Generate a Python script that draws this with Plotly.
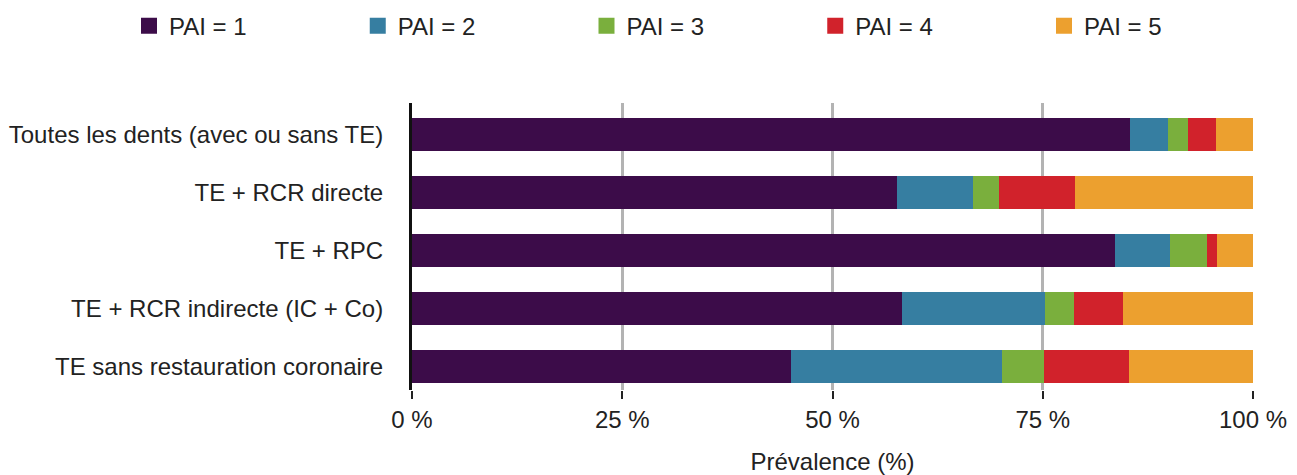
import plotly.graph_objects as go

categories = [
    "Toutes les dents (avec ou sans TE)",
    "TE + RCR directe",
    "TE + RPC",
    "TE + RCR indirecte (IC + Co)",
    "TE sans restauration coronaire",
]
series_names = ["PAI = 1", "PAI = 2", "PAI = 3", "PAI = 4", "PAI = 5"]
pai1 = [85.4, 57.7, 83.6, 58.3, 45.1]
pai2 = [4.5, 9.0, 6.5, 17.0, 25.1]
pai3 = [2.4, 3.1, 4.4, 3.4, 5.0]
pai4 = [3.3, 9.0, 1.2, 5.9, 10.0]
pai5 = [4.4, 21.2, 4.3, 15.4, 14.8]
colors = ["#3c0c49", "#367ea1", "#7aaf3d", "#d1222b", "#eca02f"]
tick_vals = [0, 25, 50, 75, 100]
tick_text = ["0 %", "25 %", "50 %", "75 %", "100 %"]

FS = 24
W, H = 1289, 467

fig = go.Figure()
legend_layouts = {}
for i, (name, vals, col) in enumerate(zip(series_names, [pai1, pai2, pai3, pai4, pai5], colors)):
    lg = "legend" if i == 0 else f"legend{i + 1}"
    fig.add_trace(go.Bar(
        y=categories, x=vals, name=name, orientation="h",
        marker=dict(color=col, line=dict(width=0)),
        showlegend=False, hoverinfo="x+name",
    ))
    fig.add_trace(go.Scatter(
        x=[None], y=[None], mode="markers", name=name,
        marker=dict(symbol="square", size=20, color=col),
        showlegend=True, legend=lg,
    ))
    legend_layouts[lg] = dict(
        orientation="h",
        x=(121 + 228.75 * i) / W, xanchor="left", xref="container",
        y=0.961, yanchor="middle", yref="container",
        font=dict(size=FS), itemsizing="trace",
        bgcolor="rgba(0,0,0,0)",
    )

fig.update_layout(
    width=W, height=H,
    margin=dict(l=404, r=44, t=95, b=85),
    barmode="stack", bargap=0.43,
    plot_bgcolor="white", paper_bgcolor="white",
    font=dict(family="Liberation Sans, Arial, sans-serif", size=FS, color="#222222"),
    xaxis=dict(
        range=[0, 100], tickvals=tick_vals, ticktext=tick_text,
        showgrid=True, gridcolor="#b3b3b3", gridwidth=2.5,
        zeroline=False, ticks="outside", ticklen=8, tickwidth=2, tickcolor="#222222",
        title=dict(text="Prévalence (%)", standoff=27, font=dict(size=FS)),
        showline=False, automargin=False,
    ),
    yaxis=dict(
        categoryorder="array", categoryarray=categories[::-1],
        range=[-0.405, 4.543],
        showline=True, linecolor="#111111", linewidth=3,
        showgrid=False, ticks="", ticklabelstandoff=21, automargin=False,
    ),
    **legend_layouts,
)

fig.write_html("out.html")
